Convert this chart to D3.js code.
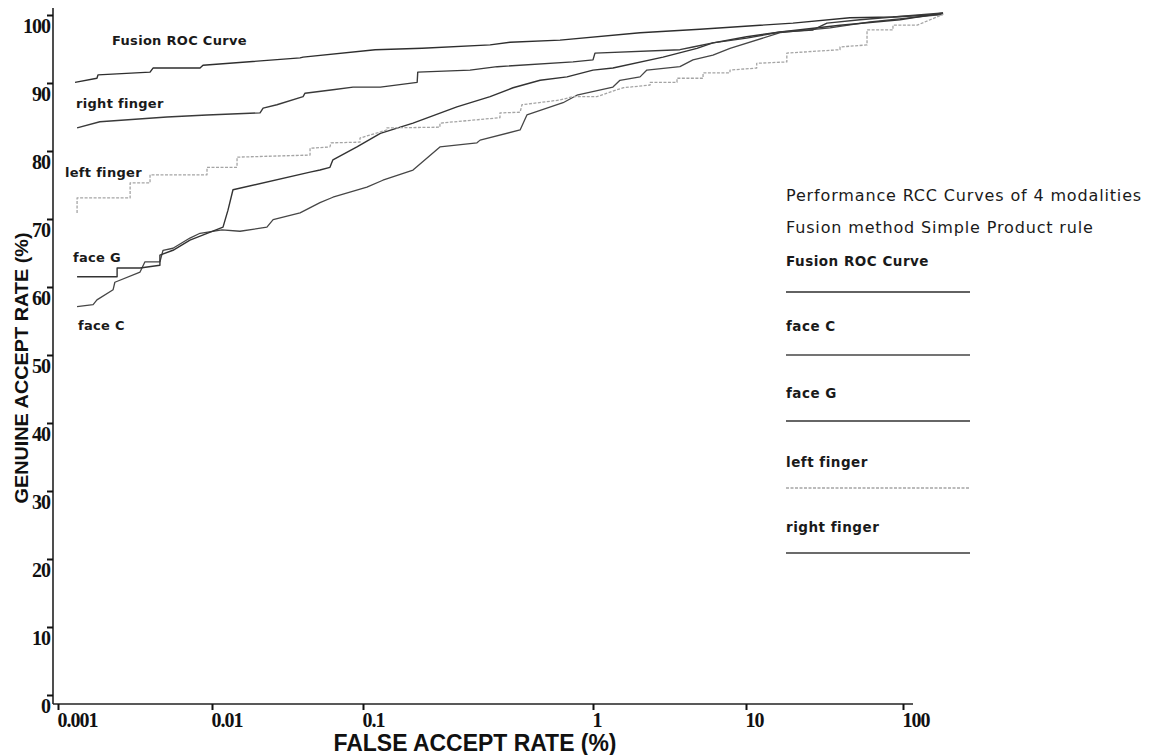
<!DOCTYPE html>
<html>
<head>
<meta charset="utf-8">
<script src="https://cdn.jsdelivr.net/npm/d3@7"></script>
<style>
  body { margin: 0; background: #fff; }
  svg { display: block; }
</style>
</head>
<body>
<svg id="chart" width="1166" height="755"></svg>
<script>
// ---------------- DATA ----------------
const xTickValues = [0.001, 0.01, 0.1, 1, 10, 100];
const xTickLabels = ["0.001", "0.01", "0.1", "1", "10", "100"];
const yTickValues = [0, 10, 20, 30, 40, 50, 60, 70, 80, 90, 100];

const seriesNames = ["Fusion ROC Curve", "face C", "face G", "left finger", "right finger"];

// False accept rate (%) and genuine accept rate (%) for each curve
const fusionFAR = [0.00129, 0.00179, 0.00182, 0.00396, 0.00414, 0.00836, 0.00874, 0.0383, 0.0401, 0.113, 0.181, 0.357, 0.436, 0.719, 2.03, 5.0, 12.3, 19.9, 45.9, 86.3, 180];
const fusionGAR = [90.1, 90.7, 91.2, 91.6, 92.2, 92.2, 92.6, 93.7, 93.8, 94.9, 95.1, 95.6, 96.0, 96.3, 97.4, 97.9, 98.5, 98.8, 99.6, 99.7, 100.1];

const faceCFAR = [0.00133, 0.00169, 0.00179, 0.00228, 0.00234, 0.00341, 0.00367, 0.00459, 0.00481, 0.00558, 0.00719, 0.00836, 0.01165, 0.01532, 0.0231, 0.0254, 0.0383, 0.0519, 0.0632, 0.104, 0.122, 0.165, 0.216, 0.313, 0.323, 0.482, 0.516, 0.741, 0.851, 1.35, 1.50, 2.03, 2.25, 3.70, 4.50, 6.08, 7.86, 16.5, 34.3, 61.7, 180];
const faceCGAR = [57.1, 57.4, 58.1, 59.6, 60.7, 62.2, 63.7, 63.7, 65.4, 65.7, 67.2, 67.9, 68.4, 68.2, 68.8, 69.9, 70.9, 72.4, 73.2, 74.7, 75.7, 77.2, 80.6, 81.2, 81.6, 83.1, 85.3, 87.1, 88.2, 89.4, 90.4, 90.9, 91.9, 92.4, 93.4, 94.1, 95.1, 97.4, 98.1, 99.0, 100.1];

const faceGFAR = [0.00133, 0.00242, 0.00242, 0.00341, 0.00459, 0.00459, 0.00558, 0.00719, 0.01183, 0.01276, 0.01377, 0.0446, 0.0519, 0.0604, 0.0632, 0.0912, 0.119, 0.165, 0.256, 0.357, 0.449, 0.589, 0.771, 1.0, 1.35, 2.87, 4.78, 6.08, 10.1, 16.5, 39.7, 95.7, 180];
const faceGGAR = [61.5, 61.5, 62.8, 62.8, 63.2, 64.7, 65.4, 66.9, 68.8, 71.3, 74.3, 76.9, 77.2, 77.6, 78.7, 80.6, 82.6, 84.1, 86.5, 88.0, 89.3, 90.4, 90.9, 91.9, 92.2, 93.8, 95.1, 95.9, 96.8, 97.5, 98.5, 99.3, 100.3];

const leftFAR = [0.00133, 0.00133, 0.00294, 0.00294, 0.00396, 0.00396, 0.00928, 0.00928, 0.01465, 0.01465, 0.0446, 0.0446, 0.0604, 0.0614, 0.0955, 0.0955, 0.127, 0.127, 0.216, 0.216, 0.394, 0.394, 0.482, 0.491, 0.719, 0.819, 1.06, 1.57, 2.36, 2.36, 3.54, 3.54, 5.24, 5.24, 7.86, 7.86, 11.7, 11.7, 18.2, 18.2, 39.7, 39.7, 59.0, 59.0, 86.3, 86.3, 123, 180];
const leftGAR = [70.9, 73.1, 73.1, 75.3, 75.3, 76.5, 76.5, 77.6, 77.6, 79.1, 79.4, 80.4, 80.6, 81.2, 81.3, 81.9, 83.1, 83.4, 83.5, 84.1, 84.9, 85.6, 85.7, 86.8, 87.5, 88.0, 88.0, 89.3, 89.7, 90.1, 90.1, 90.7, 90.7, 91.5, 91.5, 91.9, 92.2, 92.9, 93.1, 94.4, 94.9, 95.3, 95.6, 97.8, 97.8, 98.5, 98.5, 100.1];

const rightFAR = [0.00133, 0.00187, 0.0051, 0.00928, 0.0208, 0.0218, 0.0269, 0.0401, 0.0413, 0.0632, 0.0859, 0.119, 0.172, 0.173, 0.292, 0.383, 0.819, 1.0, 1.03, 3.70, 4.50, 6.08, 10.1, 16.5, 26.7, 32.8, 53.2, 86.3, 180];
const rightGAR = [83.4, 84.3, 85.0, 85.3, 85.6, 86.3, 86.8, 88.0, 88.5, 89.0, 89.4, 89.4, 90.1, 91.6, 91.9, 92.4, 93.1, 93.4, 94.4, 94.9, 95.3, 95.9, 96.6, 97.5, 97.8, 98.8, 99.3, 99.7, 100.3];

const legendTitleLines = ["Performance RCC Curves of 4 modalities", "Fusion method Simple Product rule"];
const xTitle = "FALSE ACCEPT RATE (%)";
const yTitle = "GENUINE ACCEPT RATE (%)";

// ---------------- LAYOUT / STYLE ----------------
const xTickPos = [58, 212, 363, 593, 746, 903];   // irregular decade spacing of the original axis
const plotTop = 15, plotBottom = 695, axisY = 704, axisX = 53;

const styles = {
  "Fusion ROC Curve": { color: "#2e2e2e", width: 1.4, dash: null },
  "face C":           { color: "#464646", width: 1.3, dash: null },
  "face G":           { color: "#333333", width: 1.4, dash: null },
  "left finger":      { color: "#a5a5a5", width: 1.3, dash: "3,1.5" },
  "right finger":     { color: "#3a3a3a", width: 1.4, dash: null }
};

const inPlotLabels = [
  { name: "Fusion ROC Curve", x: 112, y: 45 },
  { name: "right finger", x: 76, y: 108 },
  { name: "left finger", x: 65, y: 177 },
  { name: "face G", x: 73, y: 262 },
  { name: "face C", x: 78, y: 330 }
];

const legendX0 = 786, legendX1 = 970;
const legendTitleY = [201, 233];
const legendEntryY = [{ t: 266, l: 292 }, { t: 331, l: 355 }, { t: 398, l: 421 }, { t: 467, l: 488 }, { t: 532, l: 553 }];

// ---------------- CHART ----------------
const svg = d3.select("#chart");

const x = d3.scaleLog().domain(xTickValues).range(xTickPos);
const y = d3.scaleLinear().domain([0, 100]).range([plotBottom, plotTop]);

const series = [
  { name: seriesNames[0], far: fusionFAR, gar: fusionGAR },
  { name: seriesNames[1], far: faceCFAR, gar: faceCGAR },
  { name: seriesNames[2], far: faceGFAR, gar: faceGGAR },
  { name: seriesNames[3], far: leftFAR, gar: leftGAR },
  { name: seriesNames[4], far: rightFAR, gar: rightGAR }
].map(s => ({ name: s.name, pts: s.far.map((f, i) => ({ far: f, gar: s.gar[i] })) }));

// axes lines
svg.append("line")
  .attr("x1", axisX).attr("x2", axisX)
  .attr("y1", y(100) - 7).attr("y2", axisY)
  .attr("stroke", "#222").attr("stroke-width", 1.6);
svg.append("line")
  .attr("x1", axisX).attr("x2", x(100) + 10)
  .attr("y1", axisY).attr("y2", axisY)
  .attr("stroke", "#222").attr("stroke-width", 1.6);

// y axis
const yAxis = svg.append("g")
  .attr("transform", `translate(${axisX},0)`)
  .call(d3.axisLeft(y).tickValues(yTickValues).tickSize(6).tickSizeOuter(0).tickPadding(-3));
yAxis.select(".domain").remove();
yAxis.selectAll(".tick line").attr("stroke", "#111").attr("stroke-width", 2);
yAxis.selectAll(".tick text")
  .attr("dy", "0.88em")
  .attr("fill", "#111")
  .style("font-family", "'Liberation Serif', 'DejaVu Serif', serif")
  .style("font-size", "20px")
  .style("font-weight", "bold")
  .style("letter-spacing", "-1px");

// x axis
const xAxis = svg.append("g")
  .attr("transform", `translate(0,${axisY})`)
  .call(d3.axisBottom(x).tickValues(xTickValues).tickFormat((d, i) => xTickLabels[i]).tickSize(6).tickSizeOuter(0).tickPadding(3));
xAxis.select(".domain").remove();
xAxis.selectAll(".tick line").attr("stroke", "#111").attr("stroke-width", 2);
xAxis.selectAll(".tick text")
  .attr("text-anchor", "start")
  .attr("x", -1)
  .attr("fill", "#111")
  .style("font-family", "'Liberation Serif', 'DejaVu Serif', serif")
  .style("font-size", "20px")
  .style("font-weight", "bold")
  .style("letter-spacing", "-1px");

// axis titles
svg.append("text")
  .attr("x", 475).attr("y", 751)
  .attr("text-anchor", "middle")
  .attr("textLength", 283).attr("lengthAdjust", "spacingAndGlyphs")
  .style("font-family", "'Liberation Sans Narrow', 'Liberation Sans', Arial, sans-serif")
  .style("font-weight", "bold").style("font-size", "23px")
  .attr("fill", "#111")
  .text(xTitle);

svg.append("text")
  .attr("transform", "translate(28,368) rotate(-90)")
  .attr("text-anchor", "middle")
  .attr("textLength", 271).attr("lengthAdjust", "spacingAndGlyphs")
  .style("font-family", "'Liberation Sans Narrow', 'Liberation Sans', Arial, sans-serif")
  .style("font-weight", "bold").style("font-size", "18px")
  .attr("fill", "#111")
  .text(yTitle);

// curves
const line = d3.line().x(d => x(d.far)).y(d => y(d.gar)).curve(d3.curveLinear);
svg.append("g").selectAll("path")
  .data(series)
  .join("path")
  .attr("d", d => line(d.pts))
  .attr("fill", "none")
  .attr("stroke", d => styles[d.name].color)
  .attr("stroke-width", d => styles[d.name].width)
  .attr("stroke-dasharray", d => styles[d.name].dash)
  .attr("stroke-linejoin", "round");

// in-plot labels
svg.append("g").selectAll("text")
  .data(inPlotLabels)
  .join("text")
  .attr("x", d => d.x).attr("y", d => d.y)
  .style("font-family", "'DejaVu Sans', Verdana, sans-serif")
  .style("font-size", "13px")
  .style("font-weight", "bold")
  .style("letter-spacing", "0.3px")
  .attr("fill", "#1a1a1a")
  .text(d => d.name);

// legend
const lg = svg.append("g");
lg.selectAll("text.title")
  .data(legendTitleLines)
  .join("text")
  .attr("class", "title")
  .attr("x", legendX0).attr("y", (d, i) => legendTitleY[i])
  .style("font-family", "'DejaVu Sans', Verdana, sans-serif")
  .style("font-size", "16px")
  .style("letter-spacing", "0.85px")
  .attr("fill", "#1a1a1a")
  .text(d => d);

const entries = lg.selectAll("g.entry")
  .data(series)
  .join("g")
  .attr("class", "entry");
entries.append("text")
  .attr("x", legendX0).attr("y", (d, i) => legendEntryY[i].t)
  .style("font-family", "'DejaVu Sans', Verdana, sans-serif")
  .style("font-size", "13.5px")
  .style("font-weight", "bold")
  .style("letter-spacing", "0.5px")
  .attr("fill", "#1a1a1a")
  .text(d => d.name);
entries.append("line")
  .attr("x1", legendX0).attr("x2", legendX1)
  .attr("y1", (d, i) => legendEntryY[i].l).attr("y2", (d, i) => legendEntryY[i].l)
  .attr("stroke", d => styles[d.name].color)
  .attr("stroke-width", d => styles[d.name].width + 0.3)
  .attr("stroke-dasharray", d => styles[d.name].dash);
</script>
</body>
</html>
